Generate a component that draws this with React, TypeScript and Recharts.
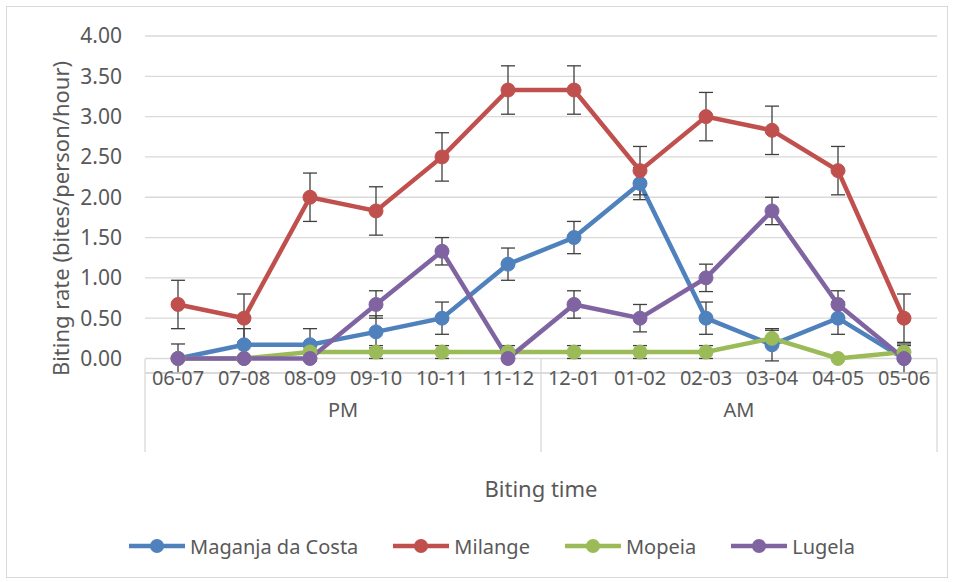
import React from "react";
import {
  LineChart,
  Line,
  XAxis,
  YAxis,
  CartesianGrid,
  Legend,
  ErrorBar,
  Label,
} from "recharts";

const hours = ["06-07", "07-08", "08-09", "09-10", "10-11", "11-12", "12-01", "01-02", "02-03", "03-04", "04-05", "05-06"];
const periods = ["PM", "AM"];
const yTicks = [0, 0.5, 1, 1.5, 2, 2.5, 3, 3.5, 4];

const maganja = [0, 0.17, 0.17, 0.33, 0.5, 1.17, 1.5, 2.17, 0.5, 0.17, 0.5, 0];
const maganjaErr = [0.18, 0.2, 0.2, 0.2, 0.2, 0.2, 0.2, 0.2, 0.2, 0.2, 0.2, 0.18];
const milange = [0.67, 0.5, 2.0, 1.83, 2.5, 3.33, 3.33, 2.33, 3.0, 2.83, 2.33, 0.5];
const milangeErr = [0.3, 0.3, 0.3, 0.3, 0.3, 0.3, 0.3, 0.3, 0.3, 0.3, 0.3, 0.3];
const mopeia = [0, 0, 0.08, 0.08, 0.08, 0.08, 0.08, 0.08, 0.08, 0.25, 0, 0.08];
const mopeiaErr = [null, null, 0.08, 0.08, 0.08, 0.08, 0.08, 0.08, 0.08, 0.1, null, 0.08];
const lugela = [0, 0, 0, 0.67, 1.33, 0, 0.67, 0.5, 1.0, 1.83, 0.67, 0];
const lugelaErr = [null, null, null, 0.17, 0.17, null, 0.17, 0.17, 0.17, 0.17, 0.17, null];

const series = [
  { key: "maganja", err: "maganjaErr", name: "Maganja da Costa", color: "#4F81BD" },
  { key: "milange", err: "milangeErr", name: "Milange", color: "#C0504D" },
  { key: "mopeia", err: "mopeiaErr", name: "Mopeia", color: "#9BBB59" },
  { key: "lugela", err: "lugelaErr", name: "Lugela", color: "#8064A2" },
];

const data = hours.map((h, i) => ({
  hour: h,
  maganja: maganja[i],
  maganjaErr: maganjaErr[i],
  milange: milange[i],
  milangeErr: milangeErr[i],
  mopeia: mopeia[i],
  mopeiaErr: mopeiaErr[i],
  lugela: lugela[i],
  lugelaErr: lugelaErr[i],
}));

const W = 940;
const H = 570;
const M = { top: 29, right: 10, left: 0, bottom: 11 };
const Y_W = 138;
const BAND = (W - M.left - M.right - Y_W) / hours.length;
const FONT = "'Noto Sans', sans-serif";
const TXT = "#595959";
const LINE = "#d9d9d9";
// recharts puts the tick y a bit under the axis line
const TICK_SHIFT = 14;

const HourTick = (props: any) => {
  const { x, y, payload, index } = props;
  const top = y - TICK_SHIFT;
  const left = x - BAND / 2;
  const perGroup = hours.length / periods.length;
  const g = Math.floor(index / perGroup);
  const startsGroup = index % perGroup === 0;
  return (
    <g>
      <text x={x} y={top + 26} textAnchor="middle" fill={TXT} fontSize={20} fontFamily={FONT}>
        {payload.value}
      </text>
      {startsGroup && (
        <>
          <line x1={left} y1={top} x2={left} y2={top + 93} stroke={LINE} strokeWidth={1.3} />
          <text x={left + (BAND * perGroup) / 2} y={top + 58} textAnchor="middle" fill={TXT} fontSize={20} fontFamily={FONT}>
            {periods[g]}
          </text>
        </>
      )}
      {index === hours.length - 1 && (
        <line x1={x + BAND / 2} y1={top} x2={x + BAND / 2} y2={top + 93} stroke={LINE} strokeWidth={1.3} />
      )}
    </g>
  );
};

const LegendBox = () => (
  <div style={{ display: "flex", justifyContent: "center", alignItems: "center", gap: 35, height: 40, paddingLeft: 40, fontFamily: FONT, fontSize: 20, color: TXT }}>
    {series.map((s) => (
      <div key={s.key} style={{ display: "flex", alignItems: "center" }}>
        <svg width={56} height={16} style={{ marginRight: 5 }}>
          <line x1={0} y1={8} x2={56} y2={8} stroke={s.color} strokeWidth={4.5} />
          <circle cx={28} cy={8} r={7} fill={s.color} />
        </svg>
        <span>{s.name}</span>
      </div>
    ))}
  </div>
);

export default function App() {
  return (
    <div style={{ position: "absolute", left: 6, top: 6, width: W, height: H, border: "1px solid #d9d9d9", background: "#fff" }}>
      <LineChart width={W} height={H} data={data} margin={M}>
        <CartesianGrid vertical={false} stroke={LINE} strokeWidth={1.3} />
        <XAxis
          dataKey="hour"
          height={153}
          interval={0}
          padding={{ left: BAND / 2, right: BAND / 2 }}
          tickSize={0}
          tickMargin={0}
          tickLine={false}
          axisLine={{ stroke: LINE, strokeWidth: 1.3 }}
          tick={<HourTick />}
        >
          <Label
            content={(p: any) => (
              <text x={p.viewBox.x + p.viewBox.width / 2} y={p.viewBox.y + 124} textAnchor="middle" fill={TXT} fontSize={22} fontFamily={FONT}>
                Biting time
              </text>
            )}
          />
        </XAxis>
        <YAxis
          width={Y_W}
          domain={[0, 4]}
          ticks={yTicks}
          interval={0}
          tickFormatter={(v: number) => v.toFixed(2)}
          tickSize={0}
          tickMargin={23}
          axisLine={false}
          tickLine={false}
          tick={{ fill: TXT, fontSize: 21, fontFamily: FONT }}
        >
          <Label
            content={(p: any) => {
              const cx = 53;
              const cy = p.viewBox.y + p.viewBox.height / 2 + 14;
              return (
                <text x={cx} y={cy} transform={`rotate(-90 ${cx} ${cy})`} textAnchor="middle" dominantBaseline="central" fill={TXT} fontSize={22} fontFamily={FONT}>
                  Biting rate (bites/person/hour)
                </text>
              );
            }}
          />
        </YAxis>
        <Legend verticalAlign="bottom" content={<LegendBox />} />
        {series.map((s) => (
          <Line
            key={s.key}
            dataKey={s.key}
            name={s.name}
            stroke={s.color}
            strokeWidth={4.5}
            dot={{ r: 7, fill: s.color, stroke: s.color, strokeWidth: 1 }}
            activeDot={false}
            isAnimationActive={false}
          >
            <ErrorBar dataKey={s.err} width={7} stroke="#404040" strokeWidth={1.3} direction="y" />
          </Line>
        ))}
      </LineChart>
    </div>
  );
}
